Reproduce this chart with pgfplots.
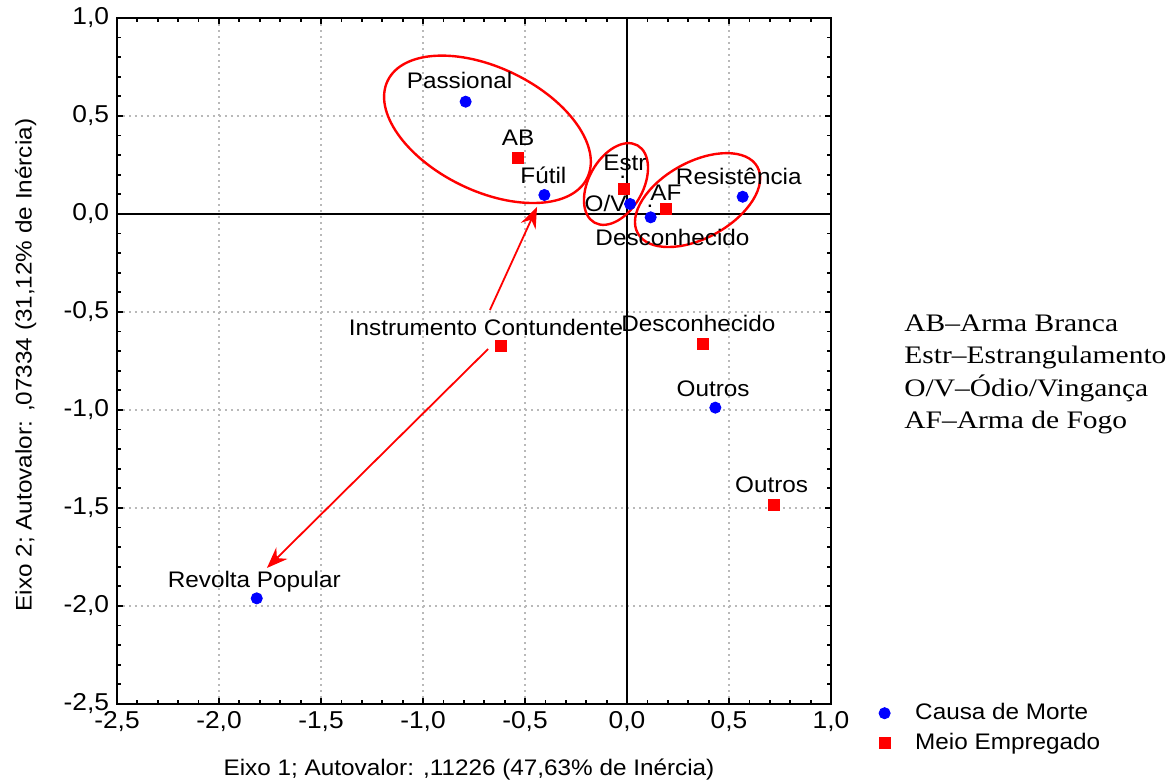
\documentclass[border=0pt]{standalone}
\usepackage{fontspec}
\setmainfont{Liberation Sans}[FakeStretch=1.08]
\newfontfamily\serifblock{Liberation Serif}[FakeStretch=1.17]
\usepackage{pgfplots}
\pgfplotsset{compat=1.18}
\usetikzlibrary{arrows.meta}
\begin{document}
\fontsize{11.25}{13.5}\selectfont
\begin{tikzpicture}
\useasboundingbox (-58.5pt,-38.5pt) rectangle (526pt,352pt);
\begin{axis}[
  at={(0pt,0pt)}, anchor=south west,
  x=102pt, y=98pt,
  xmin=-2.5, xmax=1.0, ymin=-2.5, ymax=1.0,
  xtick={-2.5,-2,...,1.0}, ytick={-2.5,-2,...,1.0},
  minor tick num=4,
  tick align=inside,
  major tick length=3pt, minor tick length=2pt,
  every tick/.style={black, line width=0.9pt},
  axis line style={black, line width=1pt},
  grid=major,
  grid style={gray!55, line width=0.6pt, dash pattern=on 1pt off 2pt},
  /pgf/number format/assume math mode=true,
  /pgf/number format/.cd, fixed, fixed zerofill, precision=1, use comma,
  /pgfplots/.cd,
  ticklabel style={font=\fontsize{12.2}{14}\selectfont},
  xlabel={Eixo 1; Autovalor: ,11226 (47,63\% de Inércia)},
  ylabel={Eixo 2; Autovalor: ,07334 (31,12\% de Inércia)},
  xlabel style={at={(axis description cs:0.493,-0.0962)}, anchor=center},
  ylabel style={at={(axis description cs:-0.128,0.494)}, anchor=center},
  label style={font=\fontsize{11.25}{13.5}\selectfont},
  clip=false,
  legend style={at={(axis cs:1.204,-2.454)}, anchor=north west, draw=none, fill=none,
    font=\fontsize{11.25}{13.5}\selectfont, row sep=1.2pt, column sep=10.5pt},
  legend cell align=left,
]
% zero lines
\draw[black, line width=1pt] (axis cs:0,-2.5) -- (axis cs:0,1.0);
\draw[black, line width=1pt] (axis cs:-2.5,0) -- (axis cs:1.0,0);
% ellipses
\draw[red, line width=1.2pt, rotate around={-26:(axis cs:-0.684,0.432)}] (axis cs:-0.684,0.432) ellipse [x radius=55.5pt, y radius=30.8pt];
\draw[red, line width=1.2pt, rotate around={61:(axis cs:-0.054,0.153)}] (axis cs:-0.054,0.153) ellipse [x radius=22.1pt, y radius=13.6pt];
\draw[red, line width=1.2pt, rotate around={29:(axis cs:0.346,0.071)}] (axis cs:0.346,0.071) ellipse [x radius=34.2pt, y radius=19pt];
% arrows
\draw[red, line width=0.9pt, -{Stealth[length=10.5pt, width=8pt, inset=3.5pt]}] (axis cs:-0.672,-0.49) -- (axis cs:-0.441,0.036);
\draw[red, line width=0.9pt, -{Stealth[length=10.5pt, width=8pt, inset=3.5pt]}] (axis cs:-0.681,-0.689) -- (axis cs:-1.765,-1.806);

\addplot[only marks, mark=*, mark size=2.8pt, color=blue, mark options={fill=blue, draw=blue}] coordinates {
(-0.791,0.573) (-0.405,0.097) (0.015,0.051) (0.116,-0.017) (0.567,0.088) (0.433,-0.988) (-1.815,-1.961)
};
\addlegendentry{Causa de Morte}
\addplot[only marks, mark=square*, mark size=2.75pt, color=red, mark options={fill=red, draw=red}] coordinates {
(-0.536,0.287) (-0.013,0.126) (0.191,0.024) (-0.618,-0.673) (0.374,-0.665) (0.722,-1.483)
};
\addlegendentry{Meio Empregado}

% point labels
\tikzset{lbl/.style={anchor=base, inner sep=0pt, font=\fontsize{11.25}{13.5}\selectfont}}
\node[lbl] at (axis cs:-0.821,0.638) {Passional};
\node[lbl] at (axis cs:-0.534,0.347) {AB};
\node[lbl] at (axis cs:-0.410,0.157) {Fútil};
\node[lbl] at (axis cs:-0.010,0.224) {Estr};
\node[lbl] at (axis cs:-0.021,0.180) {.};
\node[lbl] at (axis cs:-0.105,0.015) {O/V};
\node[lbl] at (axis cs:0.191,0.071) {AF};
\node[lbl] at (axis cs:0.113,0.035) {.};
\node[lbl] at (axis cs:0.548,0.153) {Resistência};
\node[lbl] at (axis cs:0.223,-0.163) {Desconhecido};
\node[lbl] at (axis cs:-0.691,-0.622) {Instrumento Contundente};
\node[lbl] at (axis cs:0.350,-0.600) {Desconhecido};
\node[lbl] at (axis cs:0.422,-0.932) {Outros};
\node[lbl] at (axis cs:0.709,-1.422) {Outros};
\node[lbl] at (axis cs:-1.827,-1.905) {Revolta Popular};
\end{axis}
% abbreviation block
\begin{scope}[every node/.style={anchor=base west, inner sep=0pt, font=\serifblock\fontsize{12.6}{15}\selectfont}]
\node at (393.5pt,186.15pt) {AB–Arma Branca};
\node at (393.5pt,170.0pt) {Estr–Estrangulamento};
\node at (393.5pt,153.65pt) {O/V–Ódio/Vingança};
\node at (393.5pt,137.85pt) {AF–Arma de Fogo};
\end{scope}
\end{tikzpicture}
\end{document}
